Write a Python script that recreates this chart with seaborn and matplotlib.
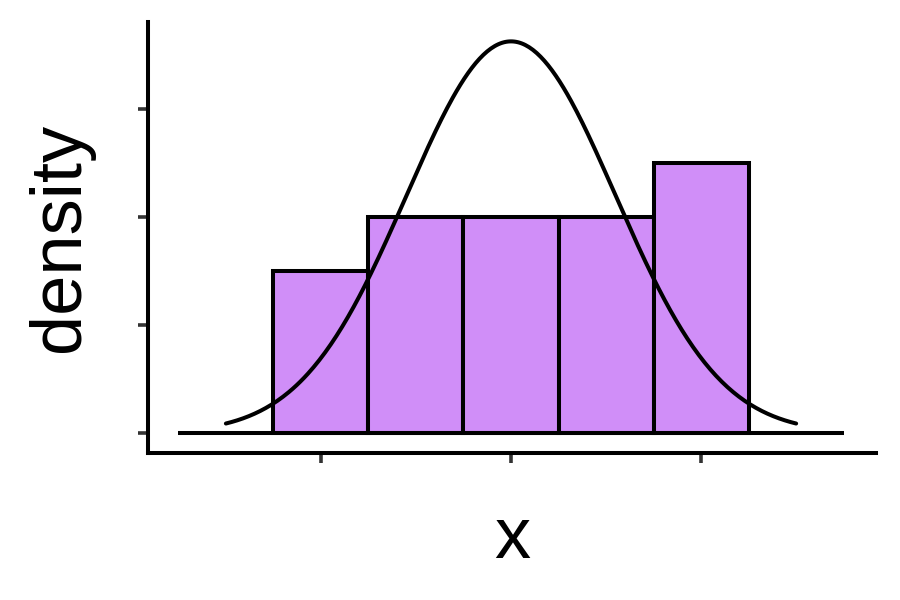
import numpy as np
import matplotlib
matplotlib.use('Agg')
import matplotlib.pyplot as plt
import seaborn as sns

# ==============================================================
# data
# ==============================================================
bin_centers = [-2, -1, 0, 1, 2]
bin_counts = [3, 4, 4, 4, 5]
bin_edges = [-2.5, -1.5, -0.5, 0.5, 1.5, 2.5]
curve_mu = 0.0
curve_sigma = 1.1
curve_range = [-3.0, 3.0]
baseline_range = [-3.5, 3.5]
x_ticks = [-2, 0, 2]
y_ticks = [0.0, 0.1, 0.2, 0.3]

sns.set_style('white')
plt.rcParams['font.family'] = ['Liberation Sans', 'DejaVu Sans']

fig = plt.figure(figsize=(9, 6), dpi=100)
ax = fig.add_axes([0.1644, 0.245, 0.8089, 0.7183])

sns.histplot(x=bin_centers, weights=bin_counts, bins=bin_edges, stat='density',
             color='#d08ef8', alpha=1, edgecolor='black', linewidth=2.9, ax=ax)

xs = np.linspace(curve_range[0], curve_range[1], 300)
ys = np.exp(-(xs - curve_mu) ** 2 / (2 * curve_sigma ** 2)) / (curve_sigma * np.sqrt(2 * np.pi))
sns.lineplot(x=xs, y=ys, color='black', linewidth=2.9, ax=ax)

ax.hlines(0, baseline_range[0], baseline_range[1], color='black', linewidth=2.9, zorder=1)

ax.set_xlim(-3.82, 3.84)
ax.set_ylim(-0.0185, 0.3806)
ax.set_xticks(x_ticks)
ax.set_yticks(y_ticks)
ax.set_xticklabels([])
ax.set_yticklabels([])
ax.tick_params(direction='out', length=7.5, width=2.6, color='#333333', bottom=True, left=True)

for side in ['top', 'right']:
    ax.spines[side].set_visible(False)
for side in ['left', 'bottom']:
    ax.spines[side].set_color('black')
    ax.spines[side].set_linewidth(2.9)

ax.set_xlabel('x', fontsize=52, labelpad=27, color='black')
ax.set_ylabel('density', fontsize=52, labelpad=28, color='black')

plt.savefig('out.png', dpi=100)
